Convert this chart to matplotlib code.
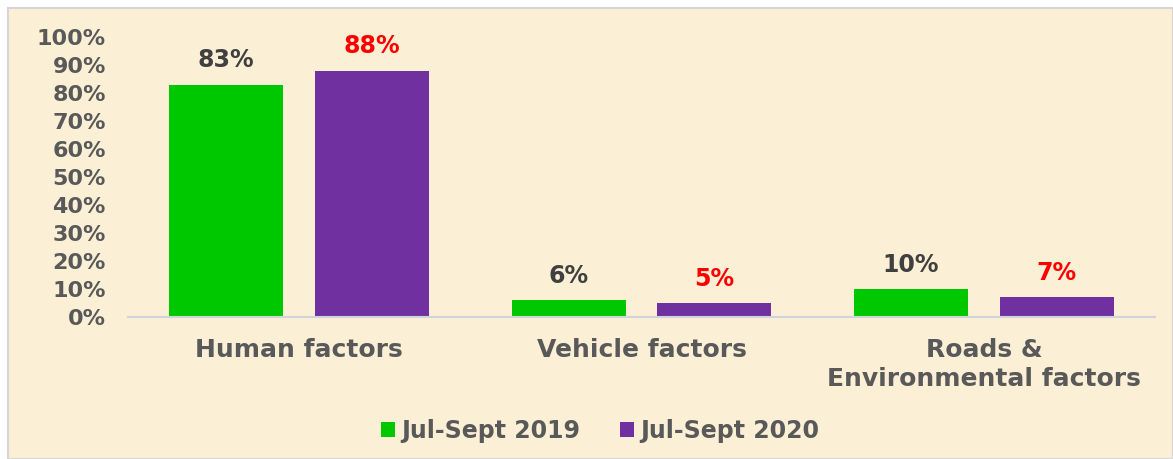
import matplotlib
matplotlib.use("Agg")
import matplotlib.pyplot as plt
import numpy as np
from matplotlib.patches import Rectangle

categories = ["Human factors", "Vehicle factors", "Roads &\nEnvironmental factors"]
series_names = ["Jul-Sept 2019", "Jul-Sept 2020"]
values_2019 = [0.83, 0.06, 0.10]
values_2020 = [0.88, 0.05, 0.07]
label_2019 = ["83%", "6%", "10%"]
label_2020 = ["88%", "5%", "7%"]
yticks = [0, 0.1, 0.2, 0.3, 0.4, 0.5, 0.6, 0.7, 0.8, 0.9, 1.0]
ytick_labels = ["0%", "10%", "20%", "30%", "40%", "50%", "60%", "70%", "80%", "90%", "100%"]

plt.rcParams['font.family'] = ['DejaVu Sans']
W, H = 1173, 459
fig = plt.figure(figsize=(W / 100, H / 100), dpi=100, facecolor="white")

# chart background panel with border
bg = Rectangle((8 / W, 0), 1 - 8 / W, 1 - 8 / H, transform=fig.transFigure,
               facecolor="#fbefd6", edgecolor="#d6d6d6", linewidth=1.5, zorder=-10)
fig.patches.append(bg)

ax = fig.add_axes([128 / W, 1 - 317 / H, (1155 - 128) / W, (317 - 37) / H])
ax.set_facecolor("none")

x = np.arange(len(categories))
bw = 0.333
off = 0.213
b1 = ax.bar(x - off, values_2019, bw, color="#00c800", label=series_names[0], zorder=2)
b2 = ax.bar(x + off, values_2020, bw, color="#7030a0", label=series_names[1], zorder=2)

for rect, lab in zip(b1, label_2019):
    ax.annotate(lab, (rect.get_x() + rect.get_width() / 2, rect.get_height()),
                xytext=(0, 9), textcoords="offset points", ha="center", va="bottom",
                fontsize=17, fontweight="bold", color="#404040")
for rect, lab in zip(b2, label_2020):
    ax.annotate(lab, (rect.get_x() + rect.get_width() / 2, rect.get_height()),
                xytext=(0, 9), textcoords="offset points", ha="center", va="bottom",
                fontsize=17, fontweight="bold", color="#ff0000")

ax.set_xlim(-0.5, 2.5)
ax.set_ylim(0, 1.0)
ax.set_yticks(yticks)
ax.set_yticklabels(ytick_labels, fontsize=16, fontweight="bold", color="#595959")
ax.set_xticks(x)
ax.set_xticklabels(categories, fontsize=18, fontweight="bold", color="#595959",
                   linespacing=1.25, va="top")
ax.tick_params(axis="both", length=0)
ax.tick_params(axis="y", pad=16)
ax.tick_params(axis="x", pad=15)
for s in ["top", "right", "left"]:
    ax.spines[s].set_visible(False)
ax.spines["bottom"].set_color("#d0d4dc")
ax.spines["bottom"].set_linewidth(1.5)

leg = fig.legend(loc="center", bbox_to_anchor=(600 / W, 1 - 431 / H), ncol=2,
                 frameon=False, handlelength=0.6, handleheight=0.6, handletextpad=0.25,
                 columnspacing=1.7, prop={"size": 17, "weight": "bold"})
for t in leg.get_texts():
    t.set_color("#595959")

fig.savefig("out.png", dpi=100, facecolor="white")
